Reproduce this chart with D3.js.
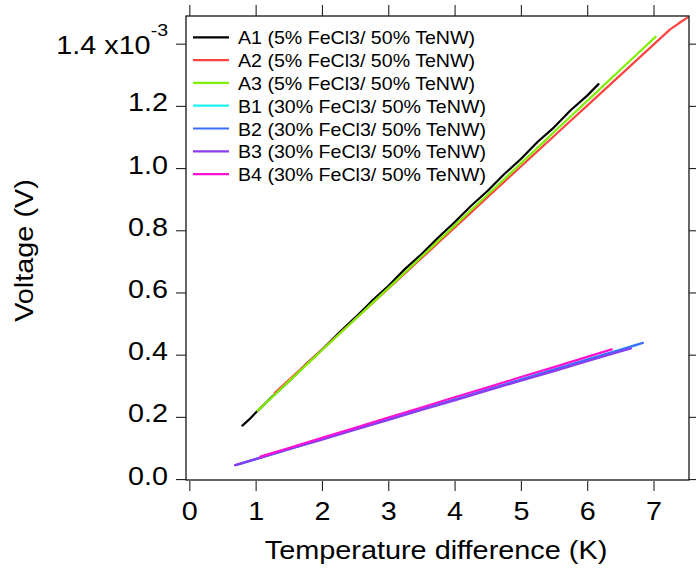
<!DOCTYPE html>
<html>
<head>
<meta charset="utf-8">
<script src="https://cdn.jsdelivr.net/npm/d3@7"></script>
<style>
  body { margin: 0; background: #fff; }
  svg { display: block; font-family: "Liberation Sans", Arial, sans-serif; }
</style>
</head>
<body>
<svg class="chart"></svg>
<script>
// data (voltage in units of 1e-3 V)
var a1X = [0.80, 0.90, 1.00, 1.25, 1.50, 1.75, 2.00, 2.25, 2.50, 2.75, 3.00, 3.25, 3.50, 3.75, 4.00, 4.25, 4.50, 4.75, 5.00, 5.25, 5.50, 5.75, 6.00, 6.17];
var a1Y = [0.172, 0.191, 0.213, 0.265, 0.314, 0.367, 0.416, 0.469, 0.519, 0.572, 0.621, 0.675, 0.723, 0.776, 0.826, 0.879, 0.927, 0.981, 1.029, 1.084, 1.131, 1.186, 1.233, 1.270];

var a2X = [1.29, 1.50, 1.75, 2.00, 2.25, 2.50, 2.75, 3.00, 3.25, 3.50, 3.75, 4.00, 4.25, 4.50, 4.75, 5.00, 5.25, 5.50, 5.75, 6.00, 6.25, 6.50, 6.75, 7.00, 7.25, 7.51, 7.38];
var a2Y = [0.277, 0.318, 0.367, 0.416, 0.465, 0.514, 0.563, 0.612, 0.661, 0.710, 0.759, 0.808, 0.857, 0.907, 0.956, 1.005, 1.054, 1.103, 1.152, 1.201, 1.250, 1.299, 1.348, 1.397, 1.446, 1.484, 1.466];

var a3X = [1.03, 1.25, 1.50, 1.75, 2.00, 2.25, 2.50, 2.75, 3.00, 3.25, 3.50, 3.75, 4.00, 4.25, 4.50, 4.75, 5.00, 5.25, 5.50, 5.75, 6.00, 6.25, 6.50, 6.75, 7.03];
var a3Y = [0.220, 0.264, 0.314, 0.364, 0.414, 0.464, 0.514, 0.564, 0.614, 0.664, 0.715, 0.765, 0.815, 0.865, 0.915, 0.965, 1.015, 1.065, 1.116, 1.166, 1.216, 1.266, 1.316, 1.366, 1.422];

var b1X = [0.75, 1.0, 1.5, 2.0, 2.5, 3.0, 3.5, 4.0, 4.5, 5.0, 5.5, 6.0, 6.5, 6.78];
var b1Y = [0.048, 0.064, 0.096, 0.128, 0.160, 0.192, 0.224, 0.256, 0.288, 0.320, 0.352, 0.384, 0.416, 0.434];

var b2X = [0.70, 1.0, 1.5, 2.0, 2.5, 3.0, 3.5, 4.0, 4.5, 5.0, 5.5, 6.0, 6.5, 6.84];
var b2Y = [0.045, 0.064, 0.096, 0.128, 0.160, 0.192, 0.224, 0.256, 0.288, 0.320, 0.352, 0.384, 0.416, 0.438];

var b3X = [0.69, 1.0, 1.5, 2.0, 2.5, 3.0, 3.5, 4.0, 4.5, 5.0, 5.5, 6.0, 6.5, 6.66];
var b3Y = [0.045, 0.064, 0.096, 0.127, 0.159, 0.190, 0.222, 0.253, 0.285, 0.316, 0.347, 0.379, 0.410, 0.420];

var b4X = [1.07, 1.5, 2.0, 2.5, 3.0, 3.5, 4.0, 4.5, 5.0, 5.5, 6.0, 6.37];
var b4Y = [0.072, 0.100, 0.133, 0.165, 0.198, 0.230, 0.263, 0.295, 0.328, 0.360, 0.393, 0.417];

var seriesNames = ["A1 (5% FeCl3/ 50% TeNW)", "A2 (5% FeCl3/ 50% TeNW)", "A3 (5% FeCl3/ 50% TeNW)",
  "B1 (30% FeCl3/ 50% TeNW)", "B2 (30% FeCl3/ 50% TeNW)", "B3 (30% FeCl3/ 50% TeNW)", "B4 (30% FeCl3/ 50% TeNW)"];
var seriesColors = ["#000000", "#ff4242", "#7ff000", "#1ef2f2", "#3f6dff", "#8b3cf2", "#ff10d2"];
var seriesX = [a1X, a2X, a3X, b1X, b2X, b3X, b4X];
var seriesY = [a1Y, a2Y, a3Y, b1Y, b2Y, b3Y, b4Y];

var xTicks = [0, 1, 2, 3, 4, 5, 6, 7];
var yTicks = [0, 0.2, 0.4, 0.6, 0.8, 1.0, 1.2, 1.4];

var width = 696, height = 569;
// plot frame edges (note: "top" is reserved on window, so use other names)
var plotL = 186, plotR = 689, plotT = 16, plotB = 480;

var svg = d3.select(".chart").attr("width", width).attr("height", height);

var xScale = d3.scaleLinear().domain([-0.05, 7.535]).range([plotL, plotR]);
var yScale = d3.scaleLinear().domain([-0.003, 1.489]).range([plotB, plotT]);

//series lines
var line = d3.line()
  .x(function(d){ return xScale(d[0]); })
  .y(function(d){ return yScale(d[1]); });

var gLines = svg.append("g").attr("id", "lines");
for(var i = 0; i < seriesX.length; i++){
  var pts = seriesX[i].map(function(x, j){ return [x, seriesY[i][j]]; });
  gLines.append("path")
    .datum(pts)
    .attr("d", line)
    .attr("fill", "none")
    .attr("stroke", seriesColors[i])
    .attr("stroke-width", 2.2)
    .attr("stroke-linejoin", "round")
    .attr("stroke-linecap", "round");
}

//frame
svg.append("rect")
  .attr("x", plotL).attr("y", plotT)
  .attr("width", plotR-plotL).attr("height", plotB-plotT)
  .attr("fill", "none").attr("stroke", "#000").attr("stroke-width", 1.2);

//axes
var gY = svg.append("g").attr("transform", "translate(" + plotL + ",0)")
  .call(d3.axisLeft(yScale).tickValues(yTicks).tickSize(10).tickFormat(d3.format(".1f")));
var gX = svg.append("g").attr("transform", "translate(0," + (plotB+1) + ")")
  .call(d3.axisBottom(xScale).tickValues(xTicks).tickSize(10).tickFormat(d3.format("d")));
svg.append("g").attr("transform", "translate(0," + plotT + ")")
  .call(d3.axisTop(xScale).tickValues(xTicks).tickSize(11).tickFormat(""));
svg.append("g").attr("transform", "translate(" + plotR + ",0)")
  .call(d3.axisRight(yScale).tickValues(yTicks).tickSize(10).tickFormat(""));

svg.selectAll(".domain").remove();
svg.selectAll(".tick line").attr("stroke", "#222").attr("stroke-width", 1.1);

gY.selectAll(".tick text")
  .attr("x", 0).attr("dy", 0).attr("y", 5)
  .attr("transform", "translate(-18,0) scale(1.15,1)")
  .style("font-size", "25px").attr("fill", "#000");

//exponent on top label
gY.selectAll(".tick text").filter(function(d){ return d == 1.4; })
  .text(null)
  .attr("y", 10)
  .call(function(t){
    t.append("tspan").text("1.4 x10");
    t.append("tspan").attr("dy", -18).style("font-size", "17px").text("-3");
  });

gX.selectAll(".tick text")
  .attr("y", 39).attr("dy", 0)
  .attr("transform", "scale(1.15,1)")
  .style("font-size", "25px").attr("fill", "#000");

//axis titles
svg.append("text")
  .attr("transform", "translate(436,559) scale(1.11,1)")
  .attr("text-anchor", "middle")
  .style("font-size", "26px")
  .text("Temperature difference (K)");

svg.append("text")
  .attr("transform", "translate(33,250.5) rotate(-90) scale(1.11,1)")
  .attr("text-anchor", "middle")
  .style("font-size", "26px")
  .text("Voltage (V)");

//legend
var gLegend = svg.append("g").attr("id", "legend");
var legendRows = gLegend.selectAll("g")
  .data(seriesNames)
  .enter()
  .append("g")
  .attr("transform", function(d, i){ return "translate(193," + (37.3 + i*22.8) + ")"; });

legendRows.append("line")
  .attr("x1", 0).attr("x2", 36)
  .attr("stroke", function(d, i){ return seriesColors[i]; })
  .attr("stroke-width", 2.2);

legendRows.append("text")
  .attr("transform", "translate(45,7) scale(1.06,1)")
  .style("font-size", "18.5px")
  .text(function(d){ return d; });
</script>
</body>
</html>
